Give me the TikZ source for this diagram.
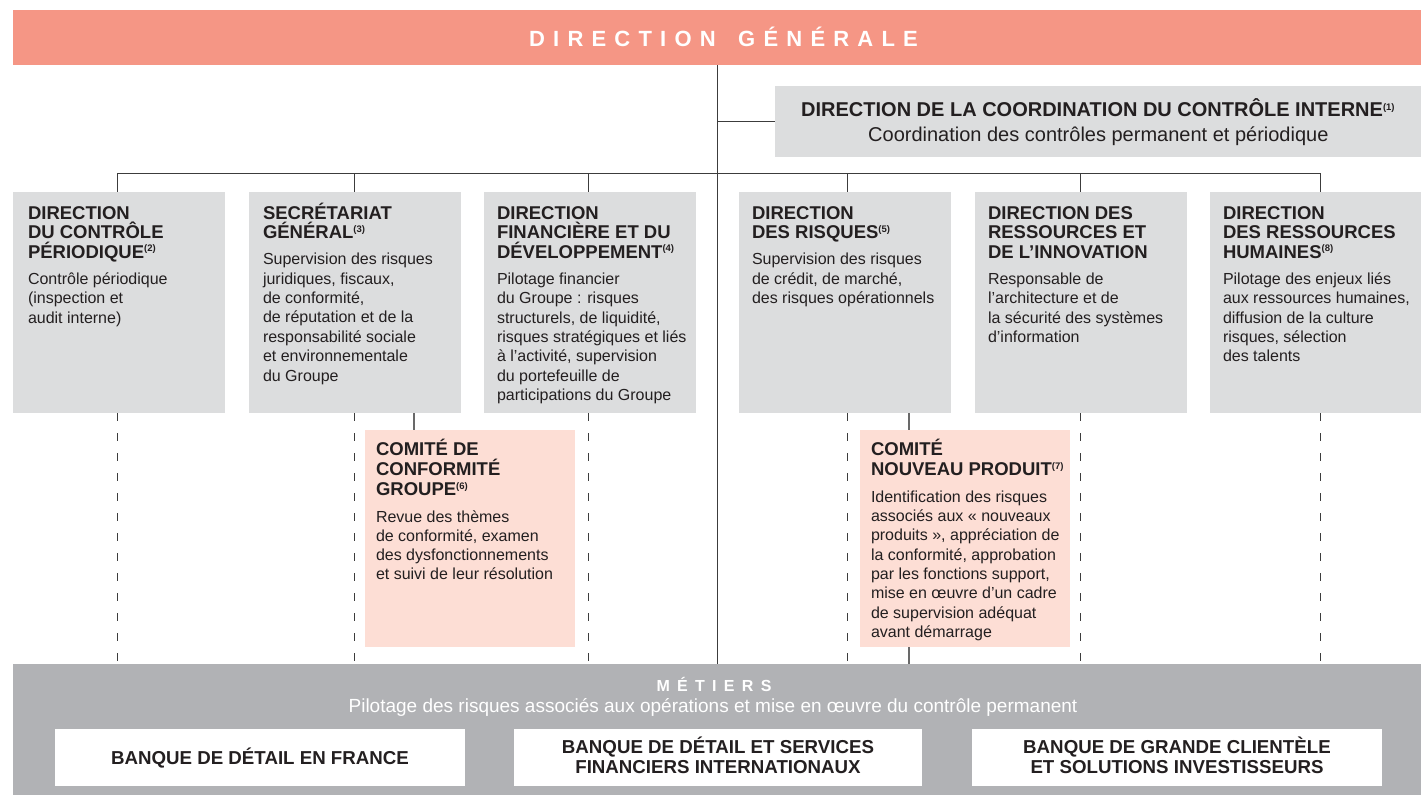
\documentclass[tikz,border=0pt]{standalone}
\usepackage{fontspec}
\setmainfont{Liberation Sans}
\definecolor{banner}{RGB}{245,150,133}
\definecolor{boxgray}{RGB}{220,221,222}
\definecolor{boxpink}{RGB}{253,222,213}
\definecolor{metgray}{RGB}{177,178,181}
\definecolor{ink}{RGB}{35,31,32}
\definecolor{linec}{RGB}{60,60,60}
\definecolor{slinec}{RGB}{105,105,105}
\newcommand\supn[1]{\raisebox{6.5pt}{\fontsize{9.5}{9.5}\selectfont(#1)}}
\newcommand\Hfont{\fontsize{18.5}{19.6}\selectfont\bfseries}
\newcommand\HCfont{\fontsize{18.5}{20}\selectfont\bfseries}
\newcommand\Bfont{\fontsize{16}{19.4}\selectfont}
\newcommand\BCfont{\fontsize{16}{19.3}\selectfont}
\newcommand\topstrut{\rule{0pt}{20pt}}
\newcommand\LKa{\kern8.2pt}
\newcommand\LKb{\kern7.3pt}
\begin{document}
\begin{tikzpicture}[x=1pt,y=-1pt,
  boxg/.style={fill=boxgray,draw=none,inner sep=0,outer sep=0,anchor=north west,minimum height=221,minimum width=212},
  boxp/.style={fill=boxpink,draw=none,inner sep=0,outer sep=0,anchor=north west,minimum height=217,minimum width=210},
  htext/.style={anchor=north west,inner sep=0,outer sep=0,align=left,text=ink,font=\Hfont},
  hctext/.style={anchor=north west,inner sep=0,outer sep=0,align=left,text=ink,font=\HCfont},
  btext/.style={anchor=north west,inner sep=0,outer sep=0,align=left,text=ink,font=\Bfont},
  bctext/.style={anchor=north west,inner sep=0,outer sep=0,align=left,text=ink,font=\BCfont},
  wbox/.style={fill=white,draw=none,inner sep=0,outer sep=0,anchor=north west,minimum height=57,minimum width=410},
  wtext/.style={anchor=north,inner sep=0,outer sep=0,align=center,text=ink,font=\fontsize{18.7}{20}\selectfont\bfseries},
  conn/.style={draw=linec,line width=1pt},
  dconn/.style={draw=linec,line width=1pt,dash pattern=on 7.5pt off 12.5pt},
  sconn/.style={draw=slinec,line width=1.2pt}
]
\useasboundingbox (0,0) rectangle (1425,795);
\fill[white] (0,0) rectangle (1425,795);

% banner
\node[fill=banner,inner sep=0,outer sep=0,anchor=north west,minimum width=1408,minimum height=55] (dg) at (13,10) {};
\node[anchor=base,inner sep=0,text=white,font=\fontsize{22}{22}\selectfont\bfseries] (dgt) at (723.5,46.7)
  {D\LKa I\LKa R\LKa E\LKa C\LKa T\LKa I\LKa O\LKa N\LKa{}\ \LKa G\LKa É\LKa N\LKa É\LKa R\LKa A\LKa L\LKa E};

% DCCI
\node[fill=boxgray,inner sep=0,outer sep=0,anchor=north west,minimum width=646,minimum height=71] (dcci) at (775,86) {};
\node[anchor=base west,inner sep=0,text=ink,font=\fontsize{20}{20}\selectfont\bfseries] (dccih) at (801,116.7)
  {DIRECTION DE LA COORDINATION DU CONTRÔLE INTERNE\supn{1}};
\node[anchor=base west,inner sep=0,text=ink,font=\fontsize{20}{21}\selectfont] (dccib) at (868,141)
  {Coordination des contrôles permanent et périodique};

% Metiers
\node[fill=metgray,inner sep=0,outer sep=0,anchor=north west,minimum width=1408,minimum height=131] (met) at (13,664) {};
\node[anchor=base,inner sep=0,text=white,font=\fontsize{16}{16}\selectfont\bfseries] (mett) at (714,691)
  {M\LKb É\LKb T\LKb I\LKb E\LKb R\LKb S};
\node[anchor=base,inner sep=0,text=white,font=\fontsize{19}{19}\selectfont] (mets) at (713,712)
  {Pilotage des risques associés aux opérations et mise en œuvre du contrôle permanent};
\node[wbox] (w1) at (55,729) {};
\node[wbox,minimum width=408] (w2) at (514,729) {};
\node[wbox] (w3) at (972,729) {};
\node[wtext] (w1t) at (260,744) {\topstrut BANQUE DE DÉTAIL EN FRANCE};
\node[wtext] (w2t) at (718,733.3) {\topstrut BANQUE DE DÉTAIL ET SERVICES\\FINANCIERS INTERNATIONAUX};
\node[wtext] (w3t) at (1177,733.3) {\topstrut BANQUE DE GRANDE CLIENTÈLE\\ET SOLUTIONS INVESTISSEURS};

% gray boxes
\node[boxg] (b1) at (13,192) {};
\node[boxg] (b2) at (249,192) {};
\node[boxg] (b3) at (484,192) {};
\node[boxg] (b4) at (739,192) {};
\node[boxg] (b5) at (975,192) {};
\node[boxg,minimum width=211] (b6) at (1210,192) {};

\node[htext] (b1h) at (28,199) {\topstrut DIRECTION\\DU CONTRÔLE\\PÉRIODIQUE\supn{2}};
\node[btext] (b1b) at (28,264.2) {\topstrut Contrôle périodique\\(inspection et\\audit interne)};

\node[htext] (b2h) at (263,199) {\topstrut SECRÉTARIAT\\GÉNÉRAL\supn{3}};
\node[btext] (b2b) at (263,244.6) {\topstrut Supervision des risques\\juridiques, fiscaux,\\de conformité,\\de réputation et de la\\responsabilité sociale\\et environnementale\\du Groupe};

\node[htext] (b3h) at (497,199) {\topstrut DIRECTION\\FINANCIÈRE ET DU\\DÉVELOPPEMENT\supn{4}};
\node[btext] (b3b) at (497,264.2) {\topstrut Pilotage financier\\du Groupe : risques\\structurels, de liquidité,\\risques stratégiques et liés\\à l’activité, supervision\\du portefeuille de\\participations du Groupe};

\node[htext] (b4h) at (752,199) {\topstrut DIRECTION\\DES RISQUES\supn{5}};
\node[btext] (b4b) at (752,244.6) {\topstrut Supervision des risques\\de crédit, de marché,\\des risques opérationnels};

\node[htext] (b5h) at (988,199) {\topstrut DIRECTION DES\\RESSOURCES ET\\DE L’INNOVATION};
\node[btext] (b5b) at (988,264.2) {\topstrut Responsable de\\l’architecture et de\\la sécurité des systèmes\\d’information};

\node[htext] (b6h) at (1223,199) {\topstrut DIRECTION\\DES RESSOURCES\\HUMAINES\supn{8}};
\node[btext] (b6b) at (1223,264.2) {\topstrut Pilotage des enjeux liés\\aux ressources humaines,\\diffusion de la culture\\risques, sélection\\des talents};

% committees
\node[boxp] (cc) at (365,430) {};
\node[hctext] (cch) at (376,435.7) {\topstrut COMITÉ DE\\CONFORMITÉ\\GROUPE\supn{6}};
\node[bctext] (ccb) at (376,502) {\topstrut Revue des thèmes\\de conformité, examen\\des dysfonctionnements\\et suivi de leur résolution};

\node[boxp] (np) at (860,430) {};
\node[hctext] (nph) at (871,435.7) {\topstrut COMITÉ\\NOUVEAU PRODUIT\supn{7}};
\node[bctext] (npb) at (871,482.3) {\topstrut Identification des risques\\associés aux « nouveaux\\produits », appréciation de\\la conformité, approbation\\par les fonctions support,\\mise en œuvre d’un cadre\\de supervision adéquat\\avant démarrage};

% connectors
\coordinate (cx) at (717.5,0);
\coordinate (d1) at (117,173);
\coordinate (d2) at (354,173);
\coordinate (d3) at (588,173);
\coordinate (d4) at (847,173);
\coordinate (d5) at (1080,173);
\coordinate (d6) at (1320,173);
\coordinate (s1) at (414,0);
\coordinate (s2) at (909,0);

\draw[conn] (dg.south -| cx) -- (met.north -| cx);
\draw[conn] (dcci.west -| cx) -- (dcci.west);
\draw[conn] (d1) -- (d6);
\foreach \d/\b in {d1/b1,d2/b2,d3/b3,d4/b4,d5/b5,d6/b6}{
  \draw[conn] (\d) -- (\d |- \b.north);
  \draw[dconn] (\d |- \b.south) -- (\d |- met.north);
}
\draw[sconn] (s1 |- b2.south) -- (s1 |- cc.north);
\draw[sconn] (s2 |- b4.south) -- (s2 |- np.north);
\draw[sconn] (s2 |- np.south) -- (s2 |- met.north);
\end{tikzpicture}
\end{document}
